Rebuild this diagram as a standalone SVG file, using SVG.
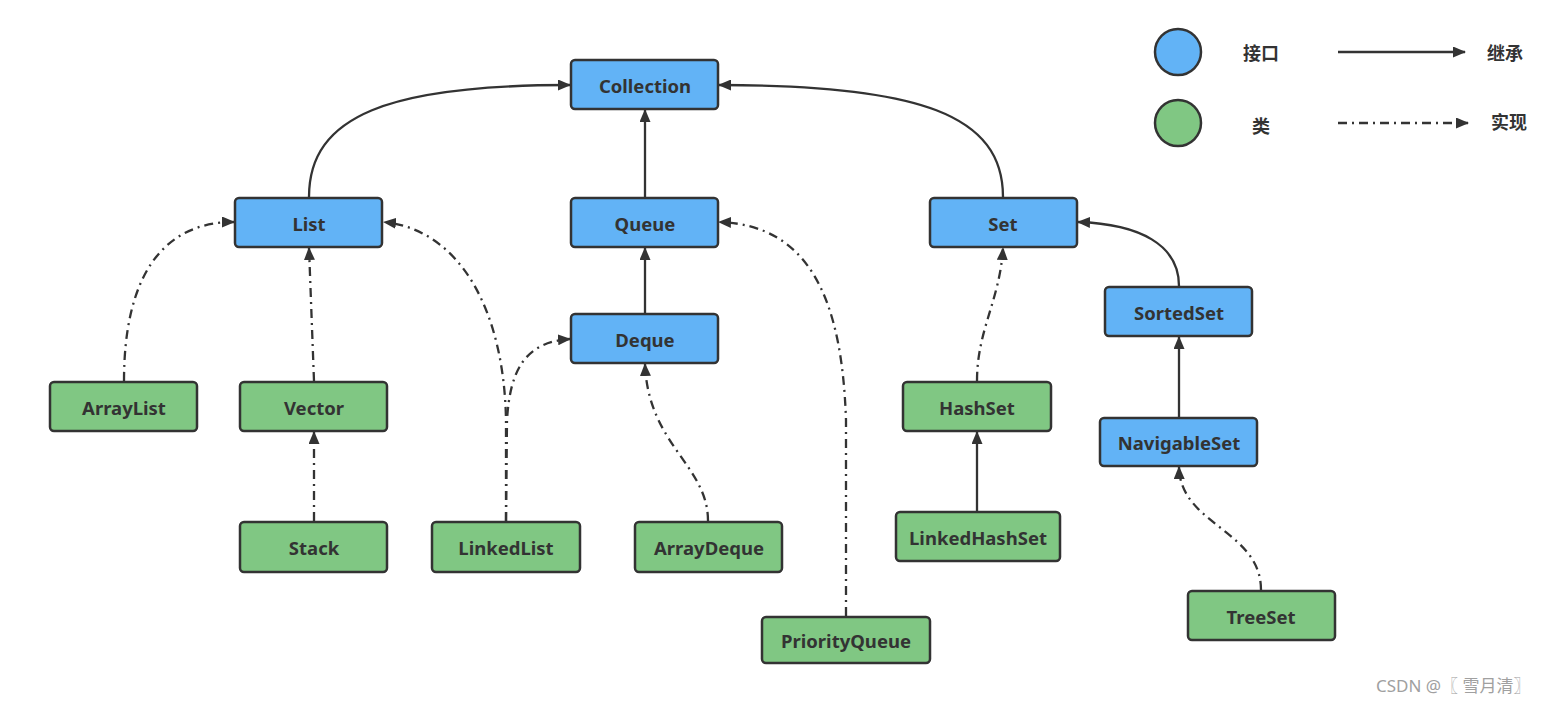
<svg xmlns="http://www.w3.org/2000/svg" width="1549" height="703" viewBox="0 0 1549 703">
<style>
.iface rect{fill:#62b3f6;stroke:#333;stroke-width:2.5}
.cls rect{fill:#80c783;stroke:#333;stroke-width:2.5}
text{font-family:"Noto Sans","Noto Sans CJK SC",sans-serif;font-weight:bold;font-size:18.5px;fill:#333;text-anchor:middle;dominant-baseline:central}
.inh{fill:none;stroke:#333;stroke-width:2.3;marker-end:url(#ah)}
.imp{fill:none;stroke:#333;stroke-width:2.3;stroke-dasharray:9 5 2 5;marker-end:url(#ah)}
.wm{font-weight:normal;font-size:17px;fill:#a0a0a0;text-anchor:start}
</style>
<defs>
<marker id="ah" viewBox="0 0 13 11" refX="12" refY="5.5" markerWidth="13" markerHeight="11" markerUnits="userSpaceOnUse" orient="auto">
<path d="M0,0 L13,5.5 L0,11 z" fill="#333"/>
</marker>
</defs>
<rect width="1549" height="703" fill="#fff"/>
<g id="connectors">
<path class="inh" d="M309,197 C309,115 390,85 570,85"/>
<path class="inh" d="M1003,197 C1003,115 920,85 719,85"/>
<path class="inh" d="M645,197 L645,110"/>
<path class="inh" d="M645,313 L645,248"/>
<path class="imp" d="M124,381 C124,280 160,222 234,222"/>
<path class="imp" d="M314,381 L309,248"/>
<path class="imp" d="M314,521 L314,432"/>
<path class="imp" d="M506,521 L506,420 C504,310 460,230 384,222"/>
<path class="imp" d="M506,521 L507,420 C510,370 525,342 570,339"/>
<path class="imp" d="M708,521 C708,465 648,445 645,364"/>
<path class="imp" d="M846,616 L846,420 C842,300 810,225 719,222"/>
<path class="imp" d="M977,381 C977,330 1000,300 1003,248"/>
<path class="inh" d="M977,511 L977,432"/>
<path class="inh" d="M1179,286 C1179,245 1140,224 1078,222"/>
<path class="inh" d="M1179,417 L1179,337"/>
<path class="imp" d="M1261,590 C1261,530 1180,525 1179,467"/>
<path class="inh" d="M1338,52 L1465,52"/>
<path class="imp" d="M1338,123 L1468,123"/>
</g>
<g id="Collection" class="iface"><rect x="571" y="60" width="147" height="49" rx="4"/><text x="645" y="85">Collection</text></g>
<g id="List" class="iface"><rect x="235" y="198" width="147" height="49" rx="4"/><text x="309" y="223">List</text></g>
<g id="Queue" class="iface"><rect x="571" y="198" width="147" height="49" rx="4"/><text x="645" y="223">Queue</text></g>
<g id="Set" class="iface"><rect x="930" y="198" width="147" height="49" rx="4"/><text x="1003" y="223">Set</text></g>
<g id="Deque" class="iface"><rect x="571" y="314" width="147" height="49" rx="4"/><text x="645" y="339">Deque</text></g>
<g id="SortedSet" class="iface"><rect x="1105" y="287" width="147" height="49" rx="4"/><text x="1179" y="312">SortedSet</text></g>
<g id="NavigableSet" class="iface"><rect x="1100" y="418" width="157" height="48" rx="4"/><text x="1179" y="442">NavigableSet</text></g>
<g id="ArrayList" class="cls"><rect x="50" y="382" width="147" height="49" rx="4"/><text x="124" y="407">ArrayList</text></g>
<g id="Vector" class="cls"><rect x="240" y="382" width="147" height="49" rx="4"/><text x="314" y="407">Vector</text></g>
<g id="HashSet" class="cls"><rect x="903" y="382" width="148" height="49" rx="4"/><text x="977" y="407">HashSet</text></g>
<g id="Stack" class="cls"><rect x="240" y="522" width="147" height="50" rx="4"/><text x="314" y="547">Stack</text></g>
<g id="LinkedList" class="cls"><rect x="432" y="522" width="148" height="50" rx="4"/><text x="506" y="547">LinkedList</text></g>
<g id="ArrayDeque" class="cls"><rect x="635" y="522" width="147" height="50" rx="4"/><text x="709" y="547">ArrayDeque</text></g>
<g id="LinkedHashSet" class="cls"><rect x="896" y="512" width="164" height="49" rx="4"/><text x="978" y="537">LinkedHashSet</text></g>
<g id="PriorityQueue" class="cls"><rect x="762" y="617" width="168" height="46" rx="4"/><text x="846" y="640">PriorityQueue</text></g>
<g id="TreeSet" class="cls"><rect x="1188" y="591" width="147" height="49" rx="4"/><text x="1261" y="616">TreeSet</text></g>
<g id="legend">
<circle cx="1178" cy="52" r="23" fill="#62b3f6" stroke="#333" stroke-width="2.5"/>
<circle cx="1178" cy="123" r="23" fill="#80c783" stroke="#333" stroke-width="2.5"/>
<text x="1261" y="53" style="font-size:18px">接口</text>
<text x="1261" y="126" style="font-size:18px">类</text>
<text x="1505" y="53" style="font-size:18px">继承</text>
<text x="1509" y="122" style="font-size:18px">实现</text>
</g>
<text class="wm" x="1376" y="685">CSDN @〖 雪月清〗</text>
</svg>
